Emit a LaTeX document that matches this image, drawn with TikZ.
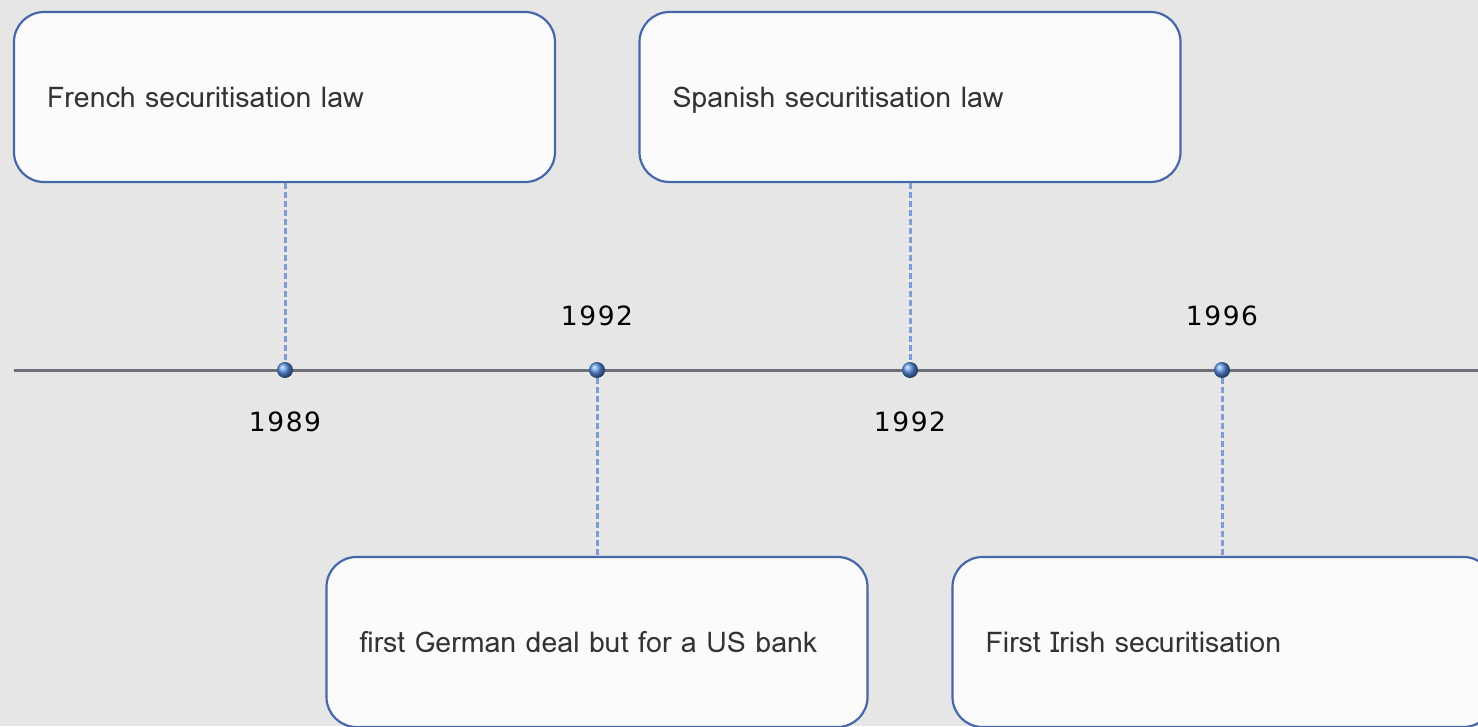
\documentclass[tikz,border=0pt]{standalone}
\usepackage{fontspec}
\setmainfont{Loma}[Script=Thai]
\newfontfamily\yearfont{DejaVu Sans}[LetterSpace=6]
\definecolor{bgc}{RGB}{230,230,230}
\definecolor{boxline}{RGB}{70,104,170}
\definecolor{boxfill}{RGB}{251,251,251}
\definecolor{axisc}{RGB}{110,110,120}
\definecolor{dashc}{RGB}{125,155,215}
\definecolor{ballc}{RGB}{85,140,225}
\tikzset{
  eventbox/.style={draw=boxline, line width=2.2pt, fill=boxfill, rounded corners=30pt,
    minimum width=541pt, minimum height=170pt, text width=475pt, inner xsep=33pt,
    text height=21pt, text depth=0pt,
    align=left, font=\fontsize{28.5}{34}\selectfont, text=black!80},
  yearlbl/.style={font=\yearfont\fontsize{26.5}{32}\selectfont, text=black},
  ballnode/.style={circle, minimum size=16pt, inner sep=0pt, ball color=ballc, shading=ball},
  stem/.style={dashc, line width=3pt, dash pattern=on 6pt off 3pt},
  axis/.style={axisc, line width=3pt}
}
\begin{document}
\begin{tikzpicture}[x=1pt,y=-1pt]
\useasboundingbox (0,0) rectangle (1478,726);
\clip (0,0) rectangle (1478,726);
\fill[bgc] (0,0) rectangle (1478,726);
\coordinate (axL) at (14,370);
\coordinate (axR) at (1478,370);
\draw[axis] (axL) -- (axR);
\node[eventbox] (b1) at (284.5,97) {French securitisation law};
\node[eventbox] (b2) at (910,97) {Spanish securitisation law};
\node[eventbox] (b3) at (597,642) {first German deal but for a US bank};
\node[eventbox] (b4) at (1223,642) {First Irish securitisation};
\node[ballnode] (d1) at (285,370) {};
\node[ballnode] (d2) at (597,370) {};
\node[ballnode] (d3) at (910,370) {};
\node[ballnode] (d4) at (1222,370) {};
\draw[stem] (b1.south -| d1) -- (d1.north);
\draw[stem] (b2.south -| d3) -- (d3.north);
\draw[stem] (d2.south) -- (b3.north -| d2);
\draw[stem] (d4.south) -- (b4.north -| d4);
\node[yearlbl] (y1) at (285,422) {1989};
\node[yearlbl] (y2) at (597,316) {1992};
\node[yearlbl] (y3) at (910,422) {1992};
\node[yearlbl] (y4) at (1222,316) {1996};
\end{tikzpicture}
\end{document}
